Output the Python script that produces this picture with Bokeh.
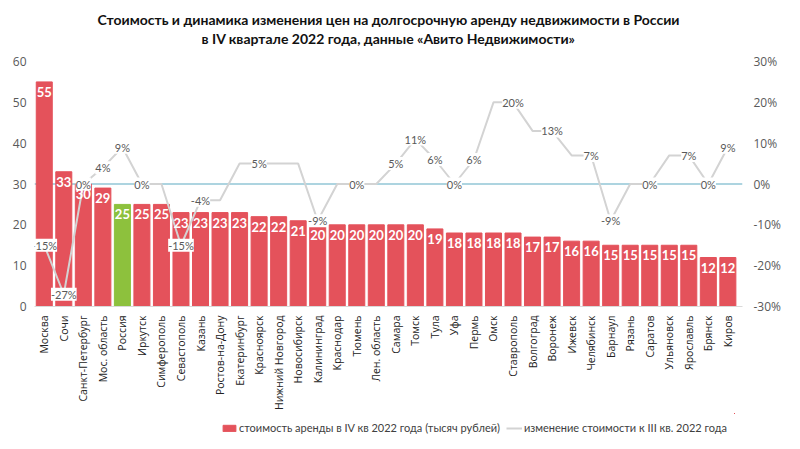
import math
from bokeh.plotting import figure
from bokeh.layouts import column
from bokeh.models import (ColumnDataSource, Range1d, LinearAxis, FixedTicker, LabelSet,
                          Span, Legend, LegendItem, Title, PrintfTickFormatter)
from bokeh.core.properties import value
from bokeh.embed import file_html
from bokeh.resources import INLINE

categories = ["Москва", "Сочи", "Санкт-Петербург", "Мос. область", "Россия", "Иркутск",
              "Симферополь", "Севастополь", "Казань", "Ростов-на-Дону", "Екатеринбург",
              "Красноярск", "Нижний Новгород", "Новосибирск", "Калининград", "Краснодар",
              "Тюмень", "Лен. область", "Самара", "Томск", "Тула", "Уфа", "Пермь", "Омск",
              "Ставрополь", "Волгоград", "Воронеж", "Ижевск", "Челябинск", "Барнаул",
              "Рязань", "Саратов", "Ульяновск", "Ярославль", "Брянск", "Киров"]
rent = [55, 33, 30, 29, 25, 25, 25, 23, 23, 23, 23, 22, 22, 21, 20, 20, 20, 20, 20, 20,
        19, 18, 18, 18, 18, 17, 17, 16, 16, 15, 15, 15, 15, 15, 12, 12]
change = [-15, -27, 0, 4, 9, 0, 0, -15, -4, -4, 5, 5, 5, 5, -9, 0, 0, 0, 5, 11,
          6, 0, 6, 20, 20, 13, 13, 7, 7, -9, 0, 0, 7, 7, 0, 9]
labeled = ["Москва", "Сочи", "Санкт-Петербург", "Мос. область", "Россия", "Иркутск",
           "Севастополь", "Казань", "Красноярск", "Калининград", "Тюмень", "Самара",
           "Томск", "Тула", "Уфа", "Пермь", "Ставрополь", "Воронеж", "Челябинск",
           "Барнаул", "Саратов", "Ярославль", "Брянск", "Киров"]
left_ticks = [0, 10, 20, 30, 40, 50, 60]
right_ticks = [-30, -20, -10, 0, 10, 20, 30]
title_lines = ["Стоимость и динамика изменения цен на долгосрочную аренду недвижимости в России",
               "в IV квартале 2022 года, данные «Авито Недвижимости»"]
legend_labels = ["стоимость аренды в IV кв 2022 года (тысяч рублей)",
                 "изменение стоимости к III кв. 2022 года"]

RED = "#E4525B"
GREEN = "#8DC13D"
GREY = "#D3D3D3"
xs = list(range(len(categories)))
colors = [GREEN if c == "Россия" else RED for c in categories]

src = ColumnDataSource(dict(x=xs, rent=rent, rent_txt=[str(v) for v in rent],
                            change=change, color=colors, cat=categories))
lab_idx = [i for i, c in enumerate(categories) if c in labeled]
lab_src = ColumnDataSource(dict(x=[xs[i] for i in lab_idx], y=[change[i] for i in lab_idx],
                                txt=[f"{change[i]}%" for i in lab_idx]))

p = figure(frame_width=708, frame_height=245, output_backend="svg", toolbar_location=None,
           x_range=Range1d(-0.5, len(categories) - 0.25), y_range=Range1d(0, 60),
           min_border_left=26, min_border_right=50, min_border_top=4, min_border_bottom=0,
           background_fill_color="white", border_fill_color="white", outline_line_color=None)
p.extra_y_ranges = {"pct": Range1d(-30, 30)}
p.xgrid.visible = False
p.ygrid.visible = False

zero = Span(location=0, dimension="width", y_range_name="pct", line_color="#92C6D6",
            line_width=1.5, level="underlay")
p.add_layout(zero)

bars = p.vbar(x="x", top="rent", width=0.82, color="color", source=src)
line = p.line(x="x", y="change", y_range_name="pct", line_color=GREY, line_width=2,
              source=src)

p.add_layout(LabelSet(x="x", y="rent", text="rent_txt", source=src, text_color="white",
                      text_font=value("Lato"), text_font_style="bold", text_font_size="13px",
                      text_align="center", text_baseline="top", y_offset=-5))
p.add_layout(LabelSet(x="x", y="y", text="txt", source=lab_src, y_range_name="pct",
                      text_color="#595959", text_font=value("Lato"), text_font_size="11px",
                      text_align="center", text_baseline="middle",
                      background_fill_color="white", background_fill_alpha=1.0))

# axes
p.yaxis.ticker = FixedTicker(ticks=left_ticks)
p.yaxis.axis_line_color = None
p.yaxis.major_tick_line_color = None
p.yaxis.minor_tick_line_color = None
p.yaxis.major_label_standoff = 2
p.yaxis.major_label_text_color = "#595959"
p.yaxis.major_label_text_font = "Open Sans"
p.yaxis.major_label_text_font_size = "12px"
p.yaxis.axis_label = "\u00a0"
p.yaxis.axis_label_text_font_size = "6px"
p.yaxis.axis_label_standoff = 0

ra = LinearAxis(y_range_name="pct", ticker=FixedTicker(ticks=right_ticks),
                formatter=PrintfTickFormatter(format="%d%%"))
ra.axis_line_color = None
ra.major_tick_line_color = None
ra.minor_tick_line_color = None
ra.major_label_standoff = 5
ra.major_label_text_color = "#595959"
ra.major_label_text_font = "Open Sans"
ra.major_label_text_font_size = "12px"
p.add_layout(ra, "right")

xa = p.xaxis[0]
xa.ticker = FixedTicker(ticks=xs)
xa.major_label_overrides = {i: c for i, c in enumerate(categories)}
xa.major_label_orientation = math.pi / 2
xa.axis_line_color = "#D9D9D9"
xa.major_tick_line_color = None
xa.minor_tick_line_color = None
xa.major_label_standoff = 3
xa.major_label_text_color = "#222222"
xa.major_label_text_font = "Open Sans"
xa.major_label_text_font_size = "10.5px"
xa.axis_label_standoff = 0

# titles (added from the frame outward)
p.add_layout(Title(text="\u00a0", text_font_size="9px", standoff=8), "above")
p.add_layout(Title(text=title_lines[1], align="center", vertical_align="top",
                   text_font="Lato", text_font_size="14px", text_font_style="bold",
                   text_color="#111111", standoff=-14), "above")
p.add_layout(Title(text=title_lines[0], align="center", vertical_align="bottom",
                   text_font="Lato", text_font_size="14px", text_font_style="bold",
                   text_color="#111111", standoff=17), "above")

# legend strip under the chart (its renderers use the chart data, kept out of view)
lg = figure(width=784, height=22, output_backend="svg", toolbar_location=None,
            x_axis_location=None, y_axis_location=None, min_border=0,
            x_range=Range1d(-3, -2), y_range=Range1d(-3, -2),
            background_fill_color="white", border_fill_color="white", outline_line_color=None)
lg.xgrid.visible = False
lg.ygrid.visible = False
lbar = lg.vbar(x="x", top="rent", width=0.82, color=RED, source=src)
lline = lg.line(x="x", y="change", line_color=GREY, line_width=2, source=src)
legend = Legend(items=[LegendItem(label=legend_labels[0], renderers=[lbar]),
                       LegendItem(label=legend_labels[1], renderers=[lline])],
                orientation="horizontal", location=(187, 1), margin=0, padding=3,
                spacing=6, label_standoff=2, glyph_width=16, glyph_height=8,
                border_line_color=None, background_fill_alpha=0,
                label_text_font="Lato", label_text_font_size="11px",
                label_text_color="#404040")
lg.add_layout(legend, "center")

layout = column(p, lg, spacing=0)
open("out.html", "w").write(file_html(layout, INLINE))
